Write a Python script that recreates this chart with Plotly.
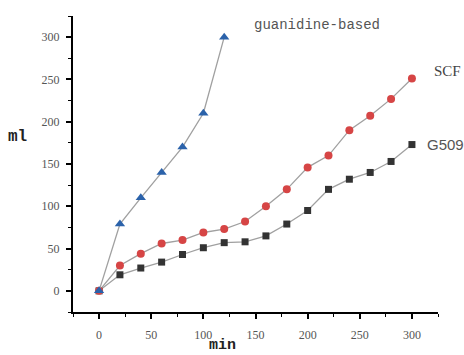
import plotly.graph_objects as go

x_guan = [0, 20, 40, 60, 80, 100, 120]
y_guan = [0, 79, 110, 140, 170, 210, 300]

x_scf = [0, 20, 40, 60, 80, 100, 120, 140, 160, 180, 200, 220, 240, 260, 280, 300]
y_scf = [0, 30, 44, 56, 60, 69, 73, 82, 100, 120, 146, 160, 190, 207, 227, 251]

x_g509 = [0, 20, 40, 60, 80, 100, 120, 140, 160, 180, 200, 220, 240, 260, 280, 300]
y_g509 = [0, 19, 27, 34, 43, 51, 57, 58, 65, 79, 95, 120, 132, 140, 153, 173]

tick_vals = [0, 50, 100, 150, 200, 250, 300]
tick_text = ["0", "50", "100", "150", "200", "250", "300"]

line_style = dict(color="#a0a0a0", width=1.3)

fig = go.Figure()
fig.add_trace(go.Scatter(x=x_g509, y=y_g509, mode="lines+markers", line=line_style,
                         marker=dict(symbol="square", size=7, color="#333333"), name="G509"))
fig.add_trace(go.Scatter(x=x_scf, y=y_scf, mode="lines+markers", line=line_style,
                         marker=dict(symbol="circle", size=8, color="#d64545"), name="SCF"))
fig.add_trace(go.Scatter(x=x_guan, y=y_guan, mode="lines+markers", line=line_style,
                         marker=dict(symbol="triangle-up", size=9, color="#2b62aa"), name="guanidine-based"))

axis_common = dict(
    showline=True, linecolor="black", linewidth=2,
    ticks="outside", ticklen=5, tickwidth=1.5, tickcolor="black",
    showgrid=False, zeroline=False,
    tickvals=tick_vals, ticktext=tick_text,
    tickfont=dict(family="Liberation Serif", size=12, color="#555555"),
    minor=dict(ticks="outside", ticklen=3, tickwidth=1.2, tickcolor="black", dtick=25, tick0=0, showgrid=False),
    range=[-25, 325], fixedrange=True,
)

W, H = 464, 355
l, r, t, b = 73, 26, 16, 43
pw, ph = W - l - r, H - t - b

def px_ann(text, px, py, family, size, color):
    return dict(text=text, xref="paper", yref="paper",
                x=(px - l) / pw, y=1 - (py - t) / ph,
                xanchor="center", yanchor="middle", showarrow=False,
                font=dict(family=family, size=size, color=color))

fig.update_layout(
    width=W, height=H,
    margin=dict(l=l, r=r, t=t, b=b),
    paper_bgcolor="white", plot_bgcolor="white",
    showlegend=False,
    xaxis=dict(**axis_common, ticklabelstandoff=6),
    yaxis=dict(**axis_common, ticklabelstandoff=4),
    annotations=[
        px_ann("guanidine-based", 317, 25, "Liberation Mono", 14, "#555555"),
        px_ann("SCF", 447, 71, "Liberation Serif", 15, "#444444"),
        px_ann("G509", 446, 144, "Liberation Sans", 15, "#555555"),
        px_ann("<b>ml</b>", 17, 137, "Liberation Mono", 16, "#222222"),
        px_ann("<b>min</b>", 222, 345, "Liberation Mono", 15, "#222222"),
    ],
)

fig.write_html("out.html")
